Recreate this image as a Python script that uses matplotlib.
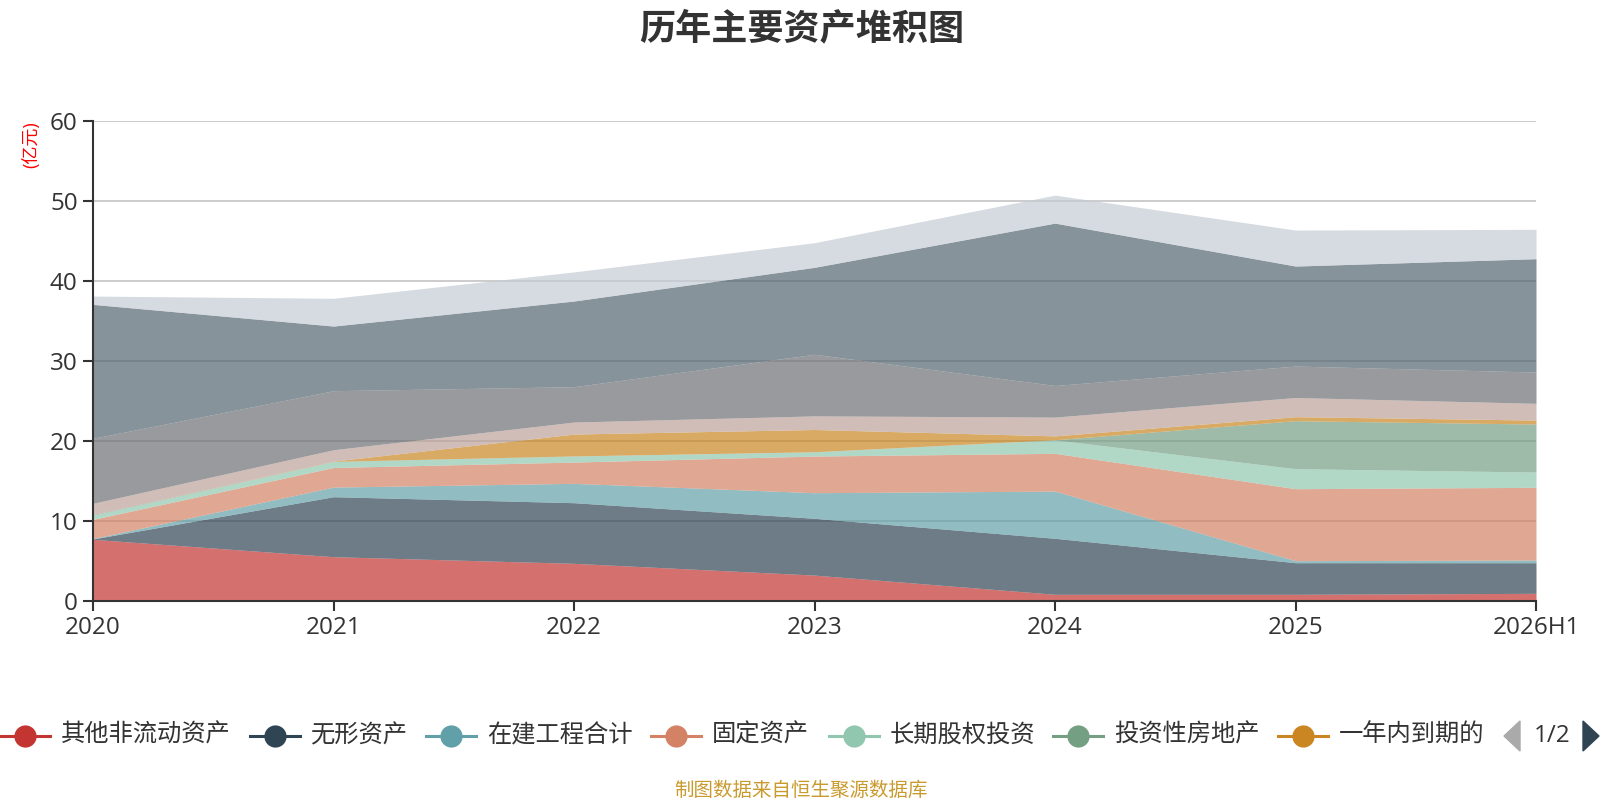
import numpy as np
import matplotlib.pyplot as plt
from matplotlib.lines import Line2D
from matplotlib.patches import Polygon

plt.rcParams['font.family'] = ['Open Sans', 'Noto Sans CJK SC', 'DejaVu Sans']

# x categories
years = ['2020', '2021', '2022', '2023', '2024', '2025', '2026H1']

# series values (亿元), bottom to top of the stack
other_noncurrent = [7.67, 5.50, 4.67, 3.20, 0.80, 0.80, 0.92]
intangible = [0.05, 7.50, 7.58, 7.10, 7.00, 3.95, 3.83]
construction = [0.05, 1.20, 2.42, 3.20, 5.90, 0.25, 0.33]
fixed_assets = [2.40, 2.45, 2.66, 4.58, 4.72, 9.00, 9.09]
lt_equity = [0.50, 0.73, 0.75, 0.52, 1.68, 2.50, 1.91]
inv_property = [0.08, 0.04, 0.02, 0.02, 0.02, 6.00, 6.00]
current_due = [0.00, 0.03, 2.73, 2.78, 0.48, 0.50, 0.50]
lt_prepaid = [1.42, 1.42, 1.50, 1.70, 2.35, 2.40, 2.09]
receivables = [8.13, 7.38, 4.42, 7.70, 3.95, 3.93, 3.91]
cash = [16.74, 8.08, 10.71, 10.87, 20.30, 12.50, 14.17]
others = [1.04, 3.47, 3.64, 3.08, 3.50, 4.50, 3.67]

series = [other_noncurrent, intangible, construction, fixed_assets, lt_equity,
          inv_property, current_due, lt_prepaid, receivables, cash, others]
# only the first legend page is visible
legend_names = ['其他非流动资产', '无形资产', '在建工程合计', '固定资产',
                '长期股权投资', '投资性房地产', '一年内到期的']

colors = ['#c23531', '#2f4554', '#61a0a8', '#d48265', '#91c7ae', '#749f83',
          '#ca8622', '#bda29a', '#6e7074', '#546570', '#c4ccd3']

W, H = 1600, 800
fig = plt.figure(figsize=(16, 8), dpi=100)
ax = fig.add_axes([93 / W, (H - 600.7) / H, (1536 - 93) / W, 480 / H])

x = np.arange(len(years))
base = np.zeros(len(years))
for vals, c in zip(series, colors):
    top = base + np.array(vals)
    ax.fill_between(x, base, top, color=c, alpha=0.7, linewidth=0, zorder=2)
    base = top

ax.set_xlim(0, len(years) - 1)
ax.set_ylim(0, 60)
ax.set_yticks(range(0, 61, 10))
ax.set_xticks(x)
ax.set_xticklabels(years)
ax.yaxis.grid(True, color='#c8c8c8', linewidth=1.3, zorder=1)
ax.set_axisbelow(True)
for s in ['top', 'right']:
    ax.spines[s].set_visible(False)
for s in ['left', 'bottom']:
    ax.spines[s].set_color('#333333')
    ax.spines[s].set_linewidth(1.5)
    ax.spines[s].set_zorder(5)
ax.tick_params(axis='both', colors='#333333', labelsize=17.5, length=7, width=1.5, pad=4)

# unit label
fig.text(31 / W, 1 - 145 / H, '(亿元)', color='#ff0000', fontsize=13,
         rotation=90, ha='center', va='center')

# title
fig.text(802 / W, 1 - 30 / H, '历年主要资产堆积图', fontsize=26, fontweight='bold',
         color='#333333', ha='center', va='center')

# legend, drawn by hand like the echarts one
ly = 1 - 736 / H
centers = [25, 274.5, 451.5, 676, 853.6, 1078, 1302.5]
for cx, name, c in zip(centers, legend_names, colors):
    fig.add_artist(Line2D([(cx - 25) / W, (cx + 25) / W], [ly, ly], color=c,
                          linewidth=2.2, transform=fig.transFigure))
    fig.add_artist(Line2D([cx / W], [ly], marker='o', markersize=16, color=c,
                          markeredgewidth=0, transform=fig.transFigure))
    fig.text((cx + 36) / W, ly, name, fontsize=17.5, color='#333333',
             ha='left', va='center')

# pager
tri_h = 15
fig.add_artist(Polygon([[1504 / W, ly], [1520 / W, ly + tri_h / H], [1520 / W, ly - tri_h / H]],
                       closed=True, color='#aaaaaa', transform=fig.transFigure))
fig.text(1552 / W, ly, '1/2', fontsize=17.5, color='#333333', ha='center', va='center')
fig.add_artist(Polygon([[1599 / W, ly], [1583 / W, ly + tri_h / H], [1583 / W, ly - tri_h / H]],
                       closed=True, color='#2f4554', transform=fig.transFigure))

# source note
fig.text(801 / W, 1 - 791 / H, '制图数据来自恒生聚源数据库', fontsize=14,
         color='#c99a2e', ha='center', va='center')

fig.savefig('out.png', dpi=100)
